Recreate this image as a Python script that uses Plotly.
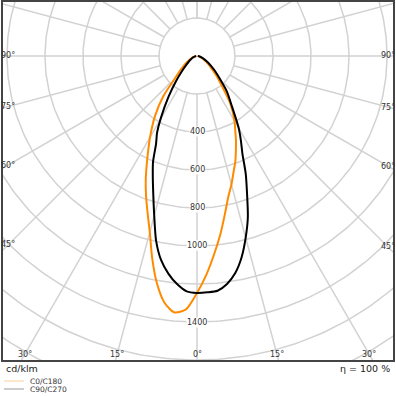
import numpy as np
import plotly.graph_objects as go

# ---------------- data (cd/klm) ----------------
gamma = [0, 2.5, 5, 7.5, 10, 12.5, 15, 17.5, 20, 22.5, 25, 27.5, 30, 35, 40, 45, 50, 55, 60, 70, 80, 90]
c0 = [1247, 1150, 1045, 945, 845, 760, 700, 640, 590, 535, 485, 435, 395, 305, 200, 140, 95, 70, 50, 25, 12, 4]
c180 = [1247, 1335, 1355, 1310, 1215, 1090, 960, 865, 784, 705, 625, 555, 495, 385, 275, 160, 110, 80, 55, 28, 12, 4]
c90 = [1247, 1245, 1240, 1210, 1160, 1085, 990, 890, 770, 670, 565, 500, 440, 318, 245, 170, 125, 90, 65, 32, 14, 4]
c270 = [1247, 1240, 1205, 1155, 1090, 995, 870, 765, 680, 605, 510, 455, 385, 260, 170, 110, 75, 55, 40, 22, 10, 4]

ring_values = [200, 400, 600, 800, 1000, 1200, 1400, 1600, 1800, 2000]
ring_labels = [400, 600, 800, 1000, 1400]
spoke_angles = list(range(-180, 181, 15))
side_angle_labels = [90, 75, 60, 45]
bottom_angle_labels = [30, 15, 0]
series_names = ["C0/C180", "C90/C270"]
series_colors = ["#ff8a00", "#000000"]
eta_text = "η = 100 %"
unit_text = "cd/klm"

# ---------------- geometry ----------------
W = H = 396
S = 0.19            # px per cd/klm
CX, CY = 197, 56    # polar centre in px
FL, FR, FT, FB = 2, 394, 1, 361  # frame edges in px

xr = [(FL - CX) / S, (FR - CX) / S]
yr = [-(FB - CY) / S, (CY - FT) / S]


def to_xy(ang_deg, r):
    a = np.radians(np.asarray(ang_deg, dtype=float))
    r = np.asarray(r, dtype=float)
    return r * np.sin(a), -r * np.cos(a)


fig = go.Figure()

# rings
gx, gy = [], []
th = np.arange(0, 361, 1)
for R in ring_values:
    x, y = to_xy(th, np.full(th.shape, R))
    gx += list(x) + [None]
    gy += list(y) + [None]
# spokes
for a in spoke_angles:
    x, y = to_xy([a, a], [ring_values[0], 4000])
    gx += list(x) + [None]
    gy += list(y) + [None]
fig.add_trace(go.Scatter(x=gx, y=gy, mode="lines", line=dict(color="#d2d2d2", width=1.5),
                         hoverinfo="skip", showlegend=False))

# curves: left half (C180 / C270) then right half (C0 / C90)
for left, right, col in [(c180, c0, series_colors[0]), (c270, c90, series_colors[1])]:
    ang = [-g for g in gamma[::-1]] + gamma[1:]
    rr = left[::-1] + right[1:]
    x, y = to_xy(ang, rr)
    fig.add_trace(go.Scatter(x=x, y=y, mode="lines",
                             line=dict(color=col, width=2, shape="spline", smoothing=0.7),
                             hoverinfo="skip", showlegend=False))

ann = []
# ring labels
for v in ring_labels:
    ann.append(dict(x=0, y=-v, xref="x", yref="y", text=str(v), showarrow=False,
                    font=dict(size=8, color="#333333", family="DejaVu Sans"),
                    bgcolor="white", borderpad=0, xanchor="center", yanchor="middle"))
# side angle labels (on spoke, at inset from frame)
inset = 6
for a in side_angle_labels:
    for sgn, edge in [(-1, FL + inset), (1, FR - inset)]:
        dxp = abs(edge - CX)
        dyp = dxp / np.tan(np.radians(a)) if a != 90 else 0.0
        ann.append(dict(x=sgn * dxp / S, y=-dyp / S, xref="x", yref="y", text=f"{a}°",
                        showarrow=False, font=dict(size=8, color="#333333", family="DejaVu Sans"),
                        xanchor="center", yanchor="middle"))
# bottom angle labels
ybot = 354
for a in bottom_angle_labels:
    dyp = ybot - CY
    dxp = dyp * np.tan(np.radians(a))
    for sgn in ([-1, 1] if a != 0 else [1]):
        ann.append(dict(x=sgn * dxp / S, y=-dyp / S, xref="x", yref="y", text=f"{a}°",
                        showarrow=False, font=dict(size=8, color="#333333", family="DejaVu Sans"),
                        xanchor="center", yanchor="middle"))

# texts under the frame
ann.append(dict(x=4 / W, y=1 - 368 / H, xref="paper", yref="paper", text=unit_text, showarrow=False,
                font=dict(size=9.5, color="#222222", family="DejaVu Sans"), xanchor="left", yanchor="middle"))
ann.append(dict(x=392 / W, y=1 - 368 / H, xref="paper", yref="paper", text=eta_text, showarrow=False,
                font=dict(size=9.5, color="#222222", family="DejaVu Sans"), xanchor="right", yanchor="middle"))
legend_y = [381, 389]
legend_line_colors = ["#ffcf9e", "#9a9a9a"]
shapes = []
for name, ly, lc in zip(series_names, legend_y, legend_line_colors):
    shapes.append(dict(type="line", xref="paper", yref="paper", x0=4 / W, x1=24 / W,
                       y0=1 - ly / H, y1=1 - ly / H, line=dict(color=lc, width=1)))
    ann.append(dict(x=28 / W, y=1 - ly / H, xref="paper", yref="paper", text=name, showarrow=False,
                    font=dict(size=7.5, color="#333333", family="DejaVu Sans"),
                    xanchor="left", yanchor="middle"))

# frame
shapes.append(dict(type="rect", xref="paper", yref="paper", x0=FL / W, x1=FR / W,
                   y0=1 - FB / H, y1=1 - FT / H, line=dict(color="#444444", width=2)))

fig.update_layout(
    width=W, height=H, autosize=False,
    margin=dict(l=0, r=0, t=0, b=0),
    paper_bgcolor="white", plot_bgcolor="white",
    xaxis=dict(range=xr, domain=[FL / W, FR / W], visible=False, fixedrange=True),
    yaxis=dict(range=yr, domain=[1 - FB / H, 1 - FT / H], visible=False, fixedrange=True),
    annotations=ann, shapes=shapes, showlegend=False,
)
fig.write_html("out.html", config={"displayModeBar": False, "staticPlot": True},
               post_script="document.body.style.margin='0';document.body.style.overflow='hidden';")
